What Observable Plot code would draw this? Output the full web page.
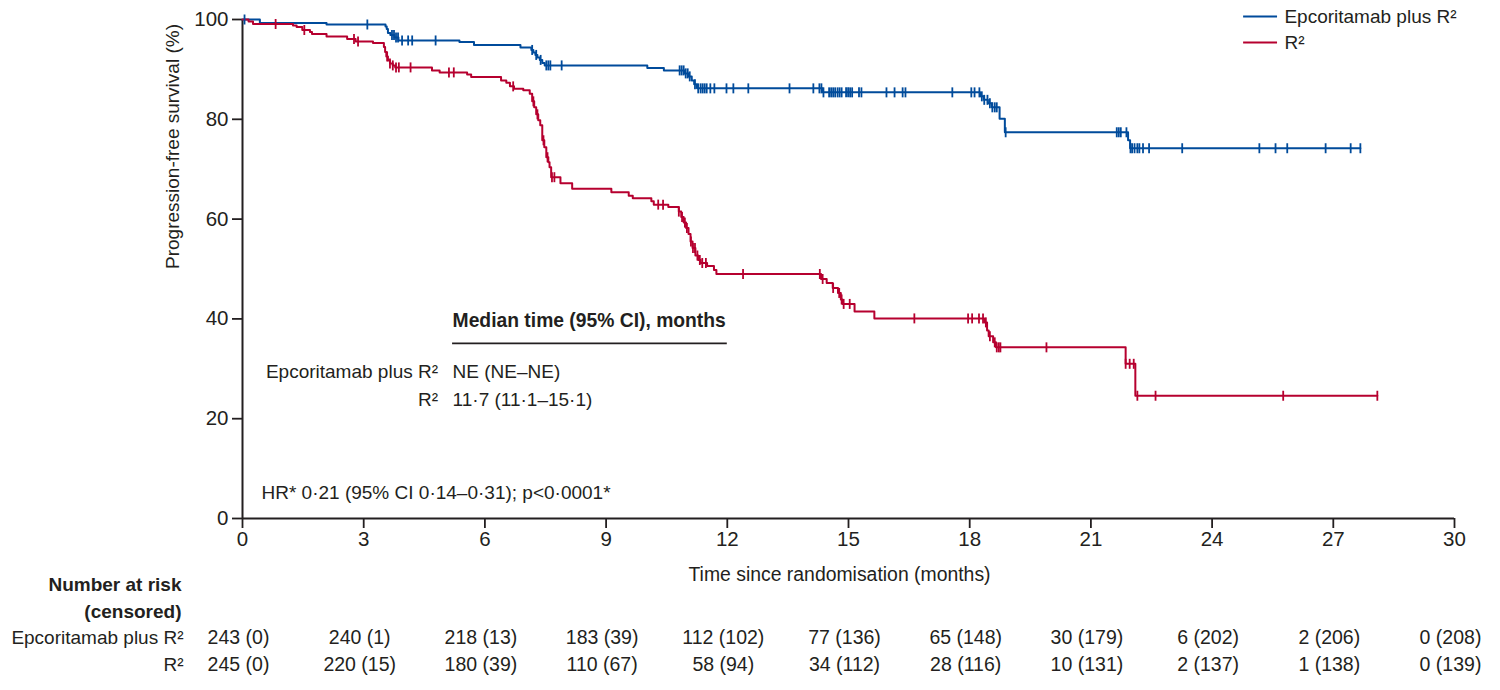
<!DOCTYPE html>
<html>
<head>
<meta charset="utf-8">
<script src="https://cdn.jsdelivr.net/npm/d3@7"></script>
<script src="https://cdn.jsdelivr.net/npm/@observablehq/plot@0.6"></script>
<style>
  html, body { margin: 0; padding: 0; background: #fff; }
  #chart svg { display: block; }
</style>
</head>
<body>
<div id="chart"></div>
<script>
// ---------- data ----------
const seriesNames = ["Epcoritamab plus R\u00b2", "R\u00b2"];
const seriesColors = ["#004b9b", "#b6002f"];

// Kaplan–Meier steps: time (months), survival (%)
const epcoTimes = [0, 0.43, 2.08, 3.54, 3.57, 3.60, 3.66, 3.76, 3.86, 5.37, 5.73, 6.88, 7.15, 7.20, 7.25, 7.30, 7.36, 7.42, 7.48, 10.02, 10.43, 10.95, 11.05, 11.12, 11.18, 11.25, 14.36, 18.26, 18.35, 18.45, 18.55, 18.74, 18.87, 21.92, 21.97];
const epcoSurv  = [100, 99.3, 99.0, 98.6, 98.1, 97.3, 96.9, 96.4, 95.8, 95.5, 94.9, 94.4, 93.9, 93.4, 92.9, 92.4, 91.9, 91.3, 90.8, 90.3, 89.8, 89.2, 88.6, 87.8, 87.0, 86.2, 85.4, 84.6, 83.9, 83.2, 82.4, 80.1, 77.4, 75.8, 74.2];
const epcoCensor = [0.05, 3.09, 3.70, 3.75, 3.80, 3.85, 3.95, 4.10, 4.20, 4.78, 7.17, 7.27, 7.38, 7.52, 7.57, 7.62, 7.90,
  10.82, 10.87, 10.92, 10.97, 11.02, 11.07, 11.20, 11.28, 11.34, 11.39, 11.44, 11.49, 11.58, 11.68, 11.98, 12.15, 12.52, 13.54, 14.13,
  14.28, 14.33, 14.38, 14.52, 14.57, 14.62, 14.67, 14.73, 14.78, 14.83, 14.94, 14.99, 15.04, 15.09, 15.26, 15.32, 15.94, 16.14, 16.34, 16.41, 17.57, 18.04, 18.12,
  18.24, 18.30, 18.36, 18.44, 18.50, 18.56, 18.62, 18.67, 18.89, 21.64, 21.69, 21.74, 21.88, 21.98, 22.02,
  22.08, 22.15, 22.20, 22.29, 22.44, 23.26, 25.17, 25.57, 25.86, 26.81, 27.43, 27.67];

const r2Times = [0, 0.15, 0.26, 1.25, 1.34, 1.48, 1.67, 1.72, 2.08, 2.59, 2.80, 3.23, 3.50, 3.53, 3.56, 3.60, 3.65, 3.72, 3.78, 4.69, 4.88, 5.56, 5.66, 6.40, 6.53, 6.62, 6.72, 6.95, 7.11,
  7.17, 7.22, 7.27, 7.32, 7.37, 7.42, 7.47, 7.52, 7.57, 7.60, 7.64, 7.87, 8.16, 9.13, 9.56, 9.66, 10.12, 10.18, 10.54,
  10.80, 10.86, 10.92, 10.98, 11.04, 11.09, 11.14, 11.21, 11.28, 11.34, 11.50, 11.67, 11.73,
  14.32, 14.46, 14.61, 14.74, 14.81, 14.85, 15.15, 15.64, 18.37, 18.43, 18.47, 18.58, 18.65, 21.86, 22.10];
const r2Surv = [100, 99.6, 99.1, 98.8, 98.5, 97.9, 97.5, 97.1, 96.6, 96.1, 95.6, 95.3, 94.5, 93.5, 92.6, 91.8, 91.2, 90.8, 90.4, 89.8, 89.4, 89.0, 88.5, 87.8, 87.3, 86.6, 86.1, 85.8, 85.1,
  83.6, 82.4, 81.0, 79.8, 78.8, 75.8, 74.4, 72.4, 71.4, 70.4, 68.4, 67.2, 66.1, 65.4, 64.7, 64.2, 63.6, 62.9, 62.4,
  61.5, 60.4, 59.3, 58.2, 57.0, 55.5, 54.2, 52.7, 51.8, 51.2, 50.6, 49.8, 49.0,
  48.0, 47.2, 46.2, 45.2, 43.9, 43.0, 41.5, 40.1, 39.3, 37.7, 36.5, 35.3, 34.3, 31.0, 24.6];
const r2Censor = [0.82, 1.53, 2.76, 2.86, 3.58, 3.65, 3.72, 3.80, 3.87, 4.16, 5.11, 5.23, 6.70,
  7.20, 7.30, 7.45, 7.55, 7.66, 7.72, 10.29, 10.41, 10.80, 10.88, 10.95, 11.00, 11.10, 11.15, 11.20, 11.26, 11.32, 11.38, 11.47, 12.39,
  14.29, 14.36, 14.62, 14.77, 14.83, 14.88, 15.03, 16.63, 17.96, 18.06, 18.23, 18.33, 18.40, 18.50, 18.62, 18.67, 18.72, 18.76,
  19.90, 21.86, 21.96, 22.06, 22.15, 22.60, 25.76, 28.09];

// axis ticks
const xTicks = [0, 3, 6, 9, 12, 15, 18, 21, 24, 27, 30];
const yTicks = [0, 20, 40, 60, 80, 100];

// number at risk (censored)
const riskEpco = ["243 (0)", "240 (1)", "218 (13)", "183 (39)", "112 (102)", "77 (136)", "65 (148)", "30 (179)", "6 (202)", "2 (206)", "0 (208)"];
const riskR2   = ["245 (0)", "220 (15)", "180 (39)", "110 (67)", "58 (94)", "34 (112)", "28 (116)", "10 (131)", "2 (137)", "1 (138)", "0 (139)"];

// annotation texts
const medianTitle = "Median time (95% CI), months";
const medianValues = ["NE (NE\u2013NE)", "11\u00b77 (11\u00b71\u201315\u00b71)"];
const hrText = "HR* 0\u00b721 (95% CI 0\u00b714\u20130\u00b731); p<0\u00b70001*";

// ---------- build tables ----------
function stepTable(times, surv, censor, series) {
  const rows = times.map((t, i) => ({t, s: surv[i], series}));
  const last = d3.max(censor);
  rows.push({t: last, s: surv[surv.length - 1], series});
  return rows;
}
function censorTable(times, surv, censor, series) {
  return censor.map(t => {
    let s = surv[0];
    for (let i = 0; i < times.length; i++) if (times[i] <= t) s = surv[i];
    return {t, s, series};
  });
}
const epcoLine = stepTable(epcoTimes, epcoSurv, epcoCensor, seriesNames[0]);
const r2Line = stepTable(r2Times, r2Surv, r2Censor, seriesNames[1]);
const epcoMarks = censorTable(epcoTimes, epcoSurv, epcoCensor, seriesNames[0]);
const r2Marks = censorTable(r2Times, r2Surv, r2Censor, seriesNames[1]);

const riskRows = [
  ...xTicks.map((t, i) => ({t, text: riskEpco[i], row: 0})),
  ...xTicks.map((t, i) => ({t, text: riskR2[i], row: 1}))
];

const ink = "#231f20";
const font = "Liberation Sans, Arial, sans-serif";
const fs = 19;
const tfs = 20.5;

const tickSymbol = {
  draw(context, size) {
    const h = Math.sqrt(size / Math.PI);
    context.moveTo(0, -h);
    context.lineTo(0, h);
  }
};

const chart = Plot.plot({
  width: 1500,
  height: 690,
  marginLeft: 242,
  marginRight: 46,
  marginTop: 19,
  marginBottom: 172,
  style: {fontFamily: font, fontSize: fs + "px", color: ink, background: "#fff"},
  x: {domain: [0, 30]},
  y: {domain: [0, 100]},
  marks: [
    Plot.axisX({ticks: xTicks, tickSize: 10, tickPadding: 3, label: null, fontSize: tfs, stroke: ink, strokeWidth: 1.8}),
    Plot.axisY({ticks: yTicks, tickSize: 10, tickPadding: 4, label: null, fontSize: tfs, stroke: ink, strokeWidth: 1.8}),
    Plot.ruleX([0], {stroke: ink, strokeWidth: 2}),
    Plot.ruleY([0], {stroke: ink, strokeWidth: 2}),

    // curves
    Plot.line(epcoLine, {x: "t", y: "s", curve: "step-after", stroke: seriesColors[0], strokeWidth: 2}),
    Plot.line(r2Line, {x: "t", y: "s", curve: "step-after", stroke: seriesColors[1], strokeWidth: 2}),
    Plot.dot(epcoMarks, {x: "t", y: "s", symbol: tickSymbol, r: 5, fill: "none", stroke: seriesColors[0], strokeWidth: 1.8}),
    Plot.dot(r2Marks, {x: "t", y: "s", symbol: tickSymbol, r: 5, fill: "none", stroke: seriesColors[1], strokeWidth: 1.8}),

    // axis titles
    Plot.text(["Progression-free survival (%)"], {frameAnchor: "left", dx: -70, rotate: -90, fontSize: fs, fill: ink}),
    Plot.text(["Time since randomisation (months)"], {frameAnchor: "bottom", dx: -9, dy: 62, fontSize: fs + 0.4, fill: ink}),

    // legend
    Plot.ruleY([0, 1], {y: i => 100.6 - i * 5.2, x1: 24.78, x2: 25.62, stroke: i => seriesColors[i], strokeWidth: 2}),
    Plot.text([0, 1], {y: i => 100.6 - i * 5.2, x: 25.79, text: i => seriesNames[i], textAnchor: "start", fontSize: fs, fill: ink}),

    // median table
    Plot.text([medianTitle], {x: 5.2, y: 39.7, textAnchor: "start", fontWeight: "bold", fontSize: fs + 0.3, fill: ink}),
    Plot.ruleY([35.1], {x1: 5.2, x2: 12.0, stroke: ink, strokeWidth: 1.6}),
    Plot.text([0, 1], {x: 4.84, y: i => 29.3 - i * 5.6, text: i => seriesNames[i], textAnchor: "end", fontSize: fs, fill: ink}),
    Plot.text([0, 1], {x: 5.2, y: i => 29.3 - i * 5.6, text: i => medianValues[i], textAnchor: "start", fontSize: fs, fill: ink}),
    Plot.text([hrText], {x: 0.47, y: 5.2, textAnchor: "start", fontSize: fs, fill: ink}),

    // number at risk
    Plot.text(["Number at risk"], {frameAnchor: "bottom-left", dx: -61, dy: 72, textAnchor: "end", fontWeight: "bold", fontSize: fs, fill: ink}),
    Plot.text(["(censored)"], {frameAnchor: "bottom-left", dx: -61, dy: 99, textAnchor: "end", fontWeight: "bold", fontSize: fs, fill: ink}),
    Plot.text([0], {frameAnchor: "bottom-left", dx: -59, dy: 125, text: () => seriesNames[0], textAnchor: "end", fontSize: fs, fill: ink}),
    Plot.text([1], {frameAnchor: "bottom-left", dx: -59, dy: 152, text: () => seriesNames[1], textAnchor: "end", fontSize: fs, fill: ink}),
    Plot.text(riskRows.filter(d => d.row === 0), {x: "t", text: "text", frameAnchor: "bottom", dx: -4, dy: 125, fontSize: fs + 0.5, fill: ink}),
    Plot.text(riskRows.filter(d => d.row === 1), {x: "t", text: "text", frameAnchor: "bottom", dx: -4, dy: 152, fontSize: fs + 0.5, fill: ink})
  ]
});
document.getElementById("chart").appendChild(chart);
</script>
</body>
</html>
